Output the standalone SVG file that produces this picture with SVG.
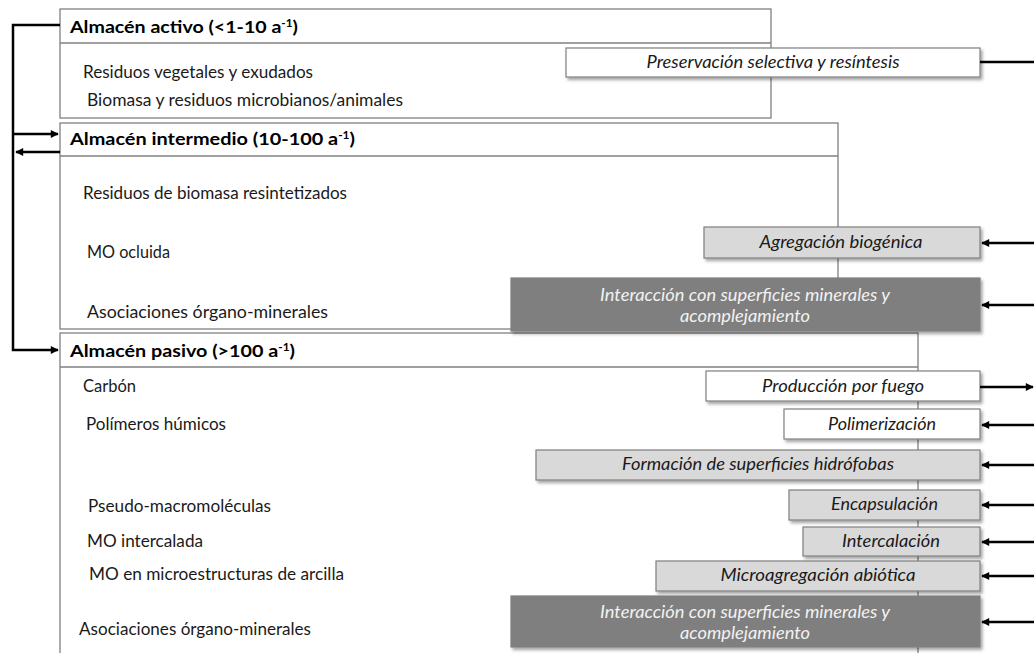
<svg xmlns="http://www.w3.org/2000/svg" width="1034" height="653" viewBox="0 0 1034 653">
<style>
.store{fill:#fff;stroke:#808080;stroke-width:1.3}
.div{stroke:#808080;stroke-width:1.3}
.hdr{font-family:Lato,"Open Sans",sans-serif;font-weight:bold;font-size:17.5px;fill:#000}
.sup{font-size:10.5px}
.body{font-family:Lato,"Open Sans",sans-serif;font-size:16.8px;fill:#1a1a1a}
.proc{stroke:#7f7f7f;stroke-width:1.2;filter:url(#sh)}
.w{fill:#fff}
.l{fill:#d9d9d9}
.d{fill:#7f7f7f}
.pt{font-family:Lato,"Open Sans",sans-serif;font-style:italic;font-size:16.8px;fill:#1a1a1a;text-anchor:middle}
.pt2{font-family:Lato,"Open Sans",sans-serif;font-style:italic;font-size:16.8px;fill:#f2f2f2;text-anchor:middle}
.c{fill:none;stroke:#000;stroke-width:2.5}
</style>
<defs>
<filter id="sh" x="-5%" y="-20%" width="115%" height="160%">
<feDropShadow dx="2" dy="2.5" stdDeviation="1.5" flood-color="#000" flood-opacity="0.35"/>
</filter>
<marker id="ah" viewBox="0 0 10 10" refX="9" refY="5" markerWidth="3.6" markerHeight="3.2" orient="auto" markerUnits="strokeWidth">
<path d="M0,0 L10,5 L0,10 Z" fill="#000"/>
</marker>
</defs>

<g id="almacen-activo">
<rect class="store" x="60" y="9" width="711" height="109"/>
<line class="div" x1="60" y1="43" x2="771" y2="43"/>
<text class="hdr" x="70" y="33" textLength="228" lengthAdjust="spacingAndGlyphs">Almacén activo (&lt;1-10 a<tspan class="sup" dy="-6">-1</tspan><tspan dy="6">)</tspan></text>
<text class="body" x="83" y="78" textLength="230" lengthAdjust="spacingAndGlyphs">Residuos vegetales y exudados</text>
<text class="body" x="87" y="106" textLength="316" lengthAdjust="spacingAndGlyphs">Biomasa y residuos microbianos/animales</text>
</g>

<g id="almacen-intermedio">
<rect class="store" x="60" y="123" width="778" height="206"/>
<line class="div" x1="60" y1="156" x2="838" y2="156"/>
<text class="hdr" x="70" y="145" textLength="285" lengthAdjust="spacingAndGlyphs">Almacén intermedio (10-100 a<tspan class="sup" dy="-6">-1</tspan><tspan dy="6">)</tspan></text>
<text class="body" x="83" y="199" textLength="264" lengthAdjust="spacingAndGlyphs">Residuos de biomasa resintetizados</text>
<text class="body" x="87" y="258" textLength="83" lengthAdjust="spacingAndGlyphs">MO ocluida</text>
<text class="body" x="87" y="318" textLength="241" lengthAdjust="spacingAndGlyphs">Asociaciones órgano-minerales</text>
</g>

<g id="almacen-pasivo">
<rect class="store" x="60" y="333" width="858" height="330"/>
<line class="div" x1="60" y1="367" x2="918" y2="367"/>
<text class="hdr" x="70" y="357" textLength="225" lengthAdjust="spacingAndGlyphs">Almacén pasivo (&gt;100 a<tspan class="sup" dy="-6">-1</tspan><tspan dy="6">)</tspan></text>
<text class="body" x="83" y="392" textLength="53" lengthAdjust="spacingAndGlyphs">Carbón</text>
<text class="body" x="86" y="430" textLength="140" lengthAdjust="spacingAndGlyphs">Polímeros húmicos</text>
<text class="body" x="88" y="512" textLength="183" lengthAdjust="spacingAndGlyphs">Pseudo-macromoléculas</text>
<text class="body" x="87" y="547" textLength="116" lengthAdjust="spacingAndGlyphs">MO intercalada</text>
<text class="body" x="89" y="580" textLength="255" lengthAdjust="spacingAndGlyphs">MO en microestructuras de arcilla</text>
<text class="body" x="79" y="635" textLength="232" lengthAdjust="spacingAndGlyphs">Asociaciones órgano-minerales</text>
</g>

<g id="preservacion">
<rect class="proc w" x="566" y="48" width="414" height="29"/>
<text class="pt" x="773" y="68" textLength="253" lengthAdjust="spacingAndGlyphs">Preservación selectiva y resíntesis</text>
</g>
<g id="agregacion">
<rect class="proc l" x="704" y="227" width="276" height="31"/>
<text class="pt" x="841" y="248" textLength="163" lengthAdjust="spacingAndGlyphs">Agregación biogénica</text>
</g>
<g id="interaccion-1">
<rect class="proc d" x="511" y="278" width="469" height="53"/>
<text class="pt2" x="745" y="301" textLength="290" lengthAdjust="spacingAndGlyphs">Interacción con superficies minerales y</text>
<text class="pt2" x="745" y="322" textLength="130" lengthAdjust="spacingAndGlyphs">acomplejamiento</text>
</g>
<g id="produccion">
<rect class="proc w" x="706" y="371" width="274" height="30"/>
<text class="pt" x="843" y="392" textLength="162" lengthAdjust="spacingAndGlyphs">Producción por fuego</text>
</g>
<g id="polimerizacion">
<rect class="proc w" x="784" y="409" width="196" height="30"/>
<text class="pt" x="882" y="430" textLength="108" lengthAdjust="spacingAndGlyphs">Polimerización</text>
</g>
<g id="formacion">
<rect class="proc l" x="536" y="450" width="444" height="30"/>
<text class="pt" x="758" y="470" textLength="272" lengthAdjust="spacingAndGlyphs">Formación de superficies hidrófobas</text>
</g>
<g id="encapsulacion">
<rect class="proc l" x="789" y="490" width="191" height="30"/>
<text class="pt" x="884.5" y="510" textLength="107" lengthAdjust="spacingAndGlyphs">Encapsulación</text>
</g>
<g id="intercalacion">
<rect class="proc l" x="803" y="527" width="177" height="29"/>
<text class="pt" x="891" y="547" textLength="98" lengthAdjust="spacingAndGlyphs">Intercalación</text>
</g>
<g id="microagregacion">
<rect class="proc l" x="656" y="561" width="324" height="30"/>
<text class="pt" x="818" y="581" textLength="195" lengthAdjust="spacingAndGlyphs">Microagregación abiótica</text>
</g>
<g id="interaccion-2">
<rect class="proc d" x="511" y="596" width="469" height="51"/>
<text class="pt2" x="745" y="618" textLength="290" lengthAdjust="spacingAndGlyphs">Interacción con superficies minerales y</text>
<text class="pt2" x="745" y="639" textLength="130" lengthAdjust="spacingAndGlyphs">acomplejamiento</text>
</g>

<g id="connectors">
<path class="c" d="M60,25 H13 V350 H58" marker-end="url(#ah)"/>
<path class="c" d="M13,134 H58" marker-end="url(#ah)"/>
<path class="c" d="M60,152 H16" marker-end="url(#ah)"/>
<path class="c" d="M980,62 H1034"/>
<path class="c" d="M1034,243 H982" marker-end="url(#ah)"/>
<path class="c" d="M1034,305 H982" marker-end="url(#ah)"/>
<path class="c" d="M980,387 H1033" marker-end="url(#ah)"/>
<path class="c" d="M1034,425 H982" marker-end="url(#ah)"/>
<path class="c" d="M1034,465 H982" marker-end="url(#ah)"/>
<path class="c" d="M1034,505 H982" marker-end="url(#ah)"/>
<path class="c" d="M1034,542 H982" marker-end="url(#ah)"/>
<path class="c" d="M1034,576 H982" marker-end="url(#ah)"/>
<path class="c" d="M1034,622 H982" marker-end="url(#ah)"/>
</g>
</svg>
